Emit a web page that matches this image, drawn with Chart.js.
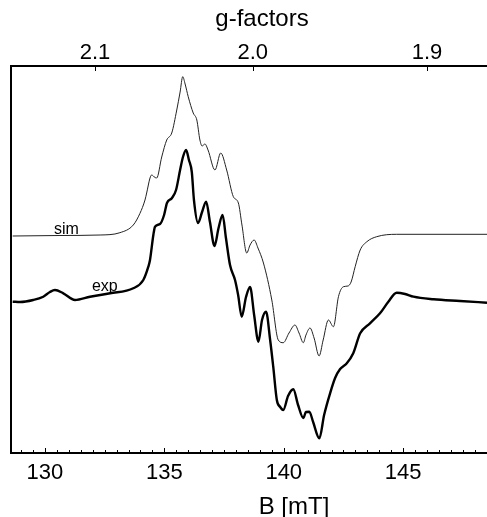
<!DOCTYPE html>
<html>
<head>
<meta charset="utf-8">
<script src="https://cdn.jsdelivr.net/npm/chart.js@4.4.0/dist/chart.umd.min.js"></script>
<style>
  html, body { margin: 0; padding: 0; background: #fff; overflow: hidden; }
  canvas { display: block; }
</style>
</head>
<body>
<canvas id="epr" width="487" height="517"></canvas>
<script>
'use strict';

// Field axis (mT)
var bMin = 128.58, bMax = 148.51;
var bTickLabels = [130, 135, 140, 145];
var bMinorStep = 0.5;

// g-factor axis, g = gConst / B
var gConst = 277.4;
var gTickLabels = ['2.1', '2.0', '1.9'];

// Simulated spectrum
var simB = [128.65, 130.63, 132.31, 133.14, 133.70, 133.98, 134.19, 134.26, 134.40, 134.47,
  134.61, 134.68, 134.89, 135.10, 135.31, 135.52, 135.66, 135.77, 135.87, 136.00,
  136.21, 136.36, 136.49, 136.58, 136.70, 136.83, 137.12, 137.36, 137.61, 137.89,
  138.10, 138.25, 138.45, 138.59, 138.76, 138.92, 139.15, 139.50, 139.77, 139.98,
  140.22, 140.47, 140.64, 140.82, 140.93, 141.10, 141.27, 141.48, 141.65, 141.87,
  142.08, 142.29, 142.50, 142.69, 142.82, 142.99, 143.20, 143.48, 143.89, 144.73, 148.51];
var simI = [217, 217.5, 218, 220.3, 228, 239.7, 253, 260, 275, 278,
  275.5, 275, 296, 313, 320, 343, 361, 376.3, 369, 356.3,
  340, 333, 313, 307, 309, 303, 283, 300, 283, 256.3,
  250, 228, 200, 208, 213, 205, 190, 153, 113, 110.3,
  120, 128, 120, 110.3, 118, 125, 115, 97, 113, 133,
  126.3, 156.3, 166.3, 167, 171, 186.3, 203, 211.3, 216.3, 218.7, 218.7];

// Experimental spectrum
var expB = [128.65, 128.96, 129.51, 129.93, 130.21, 130.42, 130.77, 131.26, 131.89, 132.73,
  133.70, 134.12, 134.33, 134.40, 134.54, 134.61, 134.82, 134.99, 135.11, 135.32,
  135.49, 135.66, 135.78, 135.91, 136.03, 136.15, 136.24, 136.41, 136.58, 136.75,
  136.91, 137.10, 137.27, 137.44, 137.58, 137.75, 137.96, 138.09, 138.24, 138.42,
  138.59, 138.76, 138.94, 139.09, 139.26, 139.43, 139.56, 139.71, 139.85, 139.98,
  140.18, 140.40, 140.60, 140.82, 140.93, 141.07, 141.23, 141.49, 141.69, 141.94,
  142.15, 142.36, 142.64, 142.91, 143.20, 143.61, 144.03, 144.38, 144.73, 145.08,
  145.43, 146.27, 147.38, 148.51];
var expI = [151.3, 151, 153, 156.3, 161, 163, 159.7, 153, 156.3, 159.7,
  164.7, 173, 186.3, 193, 218, 226.3, 229, 238, 250, 255,
  263, 283, 296, 303, 293, 281, 253, 230, 241, 251.3,
  231, 207, 225, 238, 215, 188, 173, 158, 136.3, 156,
  166, 138, 111.3, 133, 141.3, 113, 86.3, 53, 46, 43,
  57, 63.7, 48, 35, 41, 41.3, 31, 14.7, 38, 59.7,
  75, 84, 89.7, 99.7, 119.7, 129.7, 139.7, 151.3, 160.3, 159,
  156.3, 153.7, 152, 150.3];

var FONT = '"Liberation Sans", Arial, Helvetica, sans-serif';
Chart.defaults.font.family = FONT;
Chart.defaults.color = '#000';

function toPoints(xs, ys) {
  return xs.map(function(x, i) { return { x: x, y: ys[i] }; });
}

// ticks pointing into the frame, axis titles, curve labels
var frameExtras = {
  id: 'frameExtras',
  afterDraw: function(chart) {
    var c = chart.ctx, x = chart.scales.x, x2 = chart.scales.x2, y = chart.scales.y;
    var a = chart.chartArea;
    c.save();
    c.strokeStyle = '#000';
    c.lineWidth = 1;
    var n0 = Math.ceil(bMin / bMinorStep), n1 = Math.floor(bMax / bMinorStep);
    for (var n = n0; n <= n1; n++) {
      var v = n * bMinorStep;
      var px = Math.round(x.getPixelForValue(v)) + 0.5;
      var len = (v % 5 === 0) ? 5 : 3;
      c.beginPath();
      c.moveTo(px, a.bottom);
      c.lineTo(px, a.bottom - len);
      c.stroke();
    }
    gTickLabels.forEach(function(g) {
      var px = Math.round(x2.getPixelForValue(gConst / parseFloat(g))) + 0.5;
      c.beginPath();
      c.moveTo(px, a.top);
      c.lineTo(px, a.top + 5);
      c.stroke();
    });

    c.fillStyle = '#000';
    c.textAlign = 'center';
    c.textBaseline = 'alphabetic';
    c.font = '24px ' + FONT;
    c.fillText('g-factors', 262, 26);
    c.fillText('B [mT]', 294, 514);

    c.textAlign = 'left';
    c.font = '16px ' + FONT;
    c.fillText('sim', x.getPixelForValue(130.38), y.getPixelForValue(219));
    c.fillText('exp', x.getPixelForValue(131.97), y.getPixelForValue(162));
    c.restore();
  }
};

new Chart(document.getElementById('epr'), {
  type: 'line',
  data: {
    datasets: [{
      label: 'sim',
      data: toPoints(simB, simI),
      borderColor: '#222',
      borderWidth: 1,
      pointRadius: 0,
      cubicInterpolationMode: 'monotone'
    }, {
      label: 'exp',
      data: toPoints(expB, expI),
      borderColor: '#000',
      borderWidth: 2.4,
      pointRadius: 0,
      cubicInterpolationMode: 'monotone'
    }]
  },
  options: {
    responsive: false,
    animation: false,
    layout: { padding: 0 },
    plugins: { legend: { display: false }, tooltip: { enabled: false } },
    scales: {
      x: {
        type: 'linear', position: 'bottom', min: bMin, max: bMax,
        afterFit: function(s) { s.height = 64; },
        afterBuildTicks: function(s) { s.ticks = bTickLabels.map(function(v) { return { value: v }; }); },
        grid: { display: false, drawTicks: false },
        border: { display: true, color: '#000', width: 2 },
        ticks: { autoSkip: false, maxRotation: 0, padding: 7, font: { size: 22 },
          callback: function(v) { return String(v); } }
      },
      x2: {
        type: 'linear', position: 'top', min: bMin, max: bMax,
        afterFit: function(s) { s.height = 66; },
        afterBuildTicks: function(s) { s.ticks = gTickLabels.map(function(g) { return { value: gConst / parseFloat(g) }; }); },
        grid: { display: false, drawTicks: false },
        border: { display: true, color: '#000', width: 2 },
        ticks: { autoSkip: false, maxRotation: 0, padding: 0, font: { size: 22 },
          callback: function(v, i) { return gTickLabels[i]; } }
      },
      y: {
        type: 'linear', min: 0, max: 387,
        afterFit: function(s) { s.width = 11; },
        grid: { display: false, drawTicks: false },
        border: { display: true, color: '#000', width: 2 },
        ticks: { display: false }
      }
    }
  },
  plugins: [frameExtras]
});
</script>
</body>
</html>
